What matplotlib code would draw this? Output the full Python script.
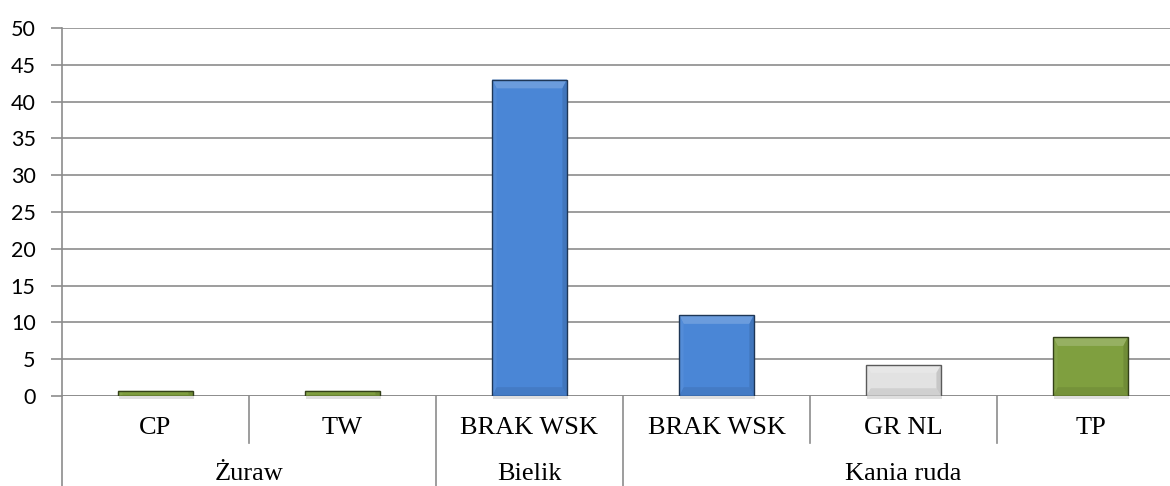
import matplotlib
matplotlib.use("Agg")
import matplotlib.pyplot as plt
from matplotlib.patches import Rectangle, Polygon
import matplotlib.colors as mc

categories = ["CP", "TW", "BRAK WSK", "BRAK WSK", "GR NL", "TP"]
groups = ["Żuraw", "Bielik", "Kania ruda"]
group_sizes = [2, 1, 3]
values = [0.7, 0.7, 43, 11, 4.2, 8]
colors = ["#7F9F3F", "#7F9F3F", "#4A86D6", "#4A86D6", "#E2E2E2", "#7F9F3F"]
yticks = [0, 5, 10, 15, 20, 25, 30, 35, 40, 45, 50]

W, H = 1170, 486
fig = plt.figure(figsize=(W / 100, H / 100), dpi=100)
L, R, T, B = 62, 1184, 28, 396
ax = fig.add_axes([L / W, 1 - B / H, (R - L) / W, (B - T) / H])

n = len(categories)
x = list(range(n))
bw = 0.40
ax.set_xlim(-0.5, n - 0.5)
ax.set_ylim(0, 50)

def shade(c, f):
    r, g, b = mc.to_rgb(c)
    if f > 1:
        return (r + (1 - r) * (f - 1), g + (1 - g) * (f - 1), b + (1 - b) * (f - 1))
    return (r * f, g * f, b * f)

for xi, v, c in zip(x, values, colors):
    ax.add_patch(Rectangle((xi - bw / 2 + 0.006, -0.45), bw, v, facecolor="#00000020",
                           edgecolor="none", zorder=2, clip_on=False))
    x0, x1 = xi - bw / 2, xi + bw / 2
    ax.add_patch(Rectangle((x0, 0), bw, v, facecolor=c, edgecolor="none", zorder=3))
    bx = bw * 0.06
    by = min(v * 0.25, 1.2)
    ax.add_patch(Polygon([(x0, v), (x1, v), (x1 - bx, v - by), (x0 + bx, v - by)],
                         closed=True, facecolor=shade(c, 1.18), edgecolor="none", zorder=4))
    ax.add_patch(Polygon([(x0, 0), (x1, 0), (x1 - bx, by), (x0 + bx, by)],
                         closed=True, facecolor=shade(c, 0.92), edgecolor="none", zorder=4))
    ax.add_patch(Polygon([(x0, 0), (x0, v), (x0 + bx, v - by), (x0 + bx, by)],
                         closed=True, facecolor=shade(c, 1.05), edgecolor="none", zorder=4))
    ax.add_patch(Polygon([(x1, 0), (x1, v), (x1 - bx, v - by), (x1 - bx, by)],
                         closed=True, facecolor=shade(c, 0.88), edgecolor="none", zorder=4))
    ax.add_patch(Rectangle((x0, 0), bw, v, facecolor="none", edgecolor=shade(c, 0.4),
                           linewidth=1.0, zorder=5))

ax.set_yticks(yticks)
ax.set_yticklabels([str(t) for t in yticks], fontsize=15.5, family="Lato")
ax.yaxis.grid(True, color="#8C8C8C", linewidth=1.2, zorder=0)
ax.set_axisbelow(True)
ax.tick_params(axis="y", length=8, width=1.2, color="#8C8C8C", pad=11)
ax.set_xticks([])
for s in ["top", "right", "bottom"]:
    ax.spines[s].set_visible(False)
ax.spines["left"].set_color("#8C8C8C")
ax.spines["left"].set_linewidth(1.2)
ax.axhline(0, color="#8C8C8C", linewidth=1.2, zorder=1)

trans = ax.get_xaxis_transform()
y_lab1 = (B - 428) / (B - T)
y_lab2 = (B - 474) / (B - T)
y_short = (B - 443) / (B - T)
y_full = (B - 486) / (B - T)

ax.plot([-0.5, -0.5], [0, y_full], transform=trans, color="#8C8C8C", lw=1.2, clip_on=False)
for xi, lab in zip(x, categories):
    ax.text(xi, y_lab1, lab, transform=trans, ha="center", va="center", fontsize=19,
            family="Liberation Serif")

start = 0
for g, sz in zip(groups, group_sizes):
    ax.text(start + (sz - 1) / 2, y_lab2, g, transform=trans, ha="center", va="center",
            fontsize=19, family="Liberation Serif")
    for k in range(1, sz):
        ax.plot([start + k - 0.5] * 2, [0, y_short], transform=trans, color="#8C8C8C",
                lw=1.2, clip_on=False)
    start += sz
    if start < n:
        ax.plot([start - 0.5] * 2, [0, y_full], transform=trans, color="#8C8C8C",
                lw=1.2, clip_on=False)

fig.savefig("out.png", dpi=100)
